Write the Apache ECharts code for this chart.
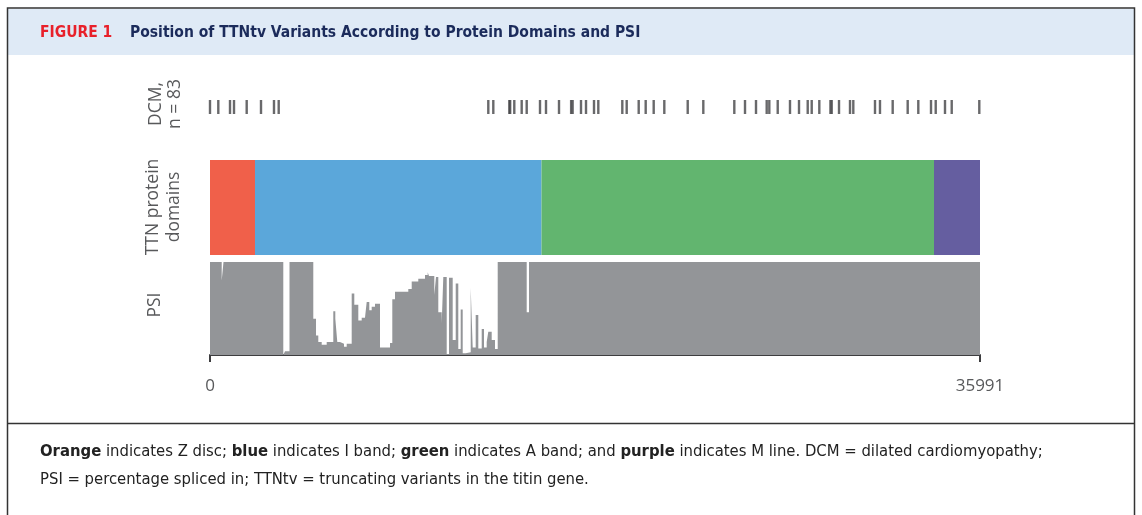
<!DOCTYPE html>
<html><head><meta charset="utf-8">
<script src="https://cdn.jsdelivr.net/npm/echarts@6/dist/echarts.min.js"></script>
<style>html,body{margin:0;padding:0;background:#fff}#c{width:1142px;height:515px}</style>
</head><body><div id="c"></div>
<script>
// ---------- data ----------
const axisMin = 0;
const axisMax = 35991;
const axisTickLabels = ['0', '35991'];

// DCM truncating variant positions (83 variants, many overlapping)
const dcmPositions = [
  0, 388, 935, 1122, 1715, 2384, 2991, 3211,
  13008, 13242, 13990, 14030, 14223, 14569, 14803, 15425, 15705, 16313, 16880, 16950,
  17341, 17575, 17949, 18150, 19272, 19477, 20038, 20365, 20739, 21235, 22329, 23058,
  24507, 25007, 25521, 26021, 26143, 26536, 27110, 27531, 27938, 28125, 28480,
  29000, 29060, 29401, 29915, 30069, 31083, 31316, 31910, 32611, 33107, 33701, 33921,
  34355, 34669, 35958
];

// TTN protein domains
const domainNames = ['Z disc', 'I band', 'A band', 'M line'];
const domainStarts = [0, 2103, 15495, 33841];
const domainEnds = [2103, 15495, 33841, 35991];

// PSI (percentage spliced in), stepwise: value holds from start to next start
const psiStart = [
  0, 547, 631, 3426, 3506, 3716, 4828, 4955, 5062, 5221, 5455, 5763, 5857, 5950, 6076,
  6263, 6390, 6623, 6745, 6932, 7091, 7245, 7324, 7446, 7558, 7712, 7946, 8414, 8521,
  8647, 9269, 9428, 9736, 10050, 10176, 10236, 10484, 10564, 10671, 10830, 10905, 11064,
  11171, 11344, 11485, 11606, 11718, 11812, 11952, 12186, 12279, 12419, 12541, 12700,
  12807, 12933, 13008, 13167, 13321, 13448, 14803, 14911, 35991
];
const psiValue = [
  1.00, 0.80, 1.00, 0.00, 0.04, 1.00, 0.39, 0.21, 0.14, 0.11, 0.14, 0.47, 0.39, 0.14, 0.12,
  0.09, 0.12, 0.66, 0.54, 0.37, 0.40, 0.39, 0.57, 0.48, 0.52, 0.55, 0.08, 0.13, 0.60,
  0.68, 0.71, 0.79, 0.82, 0.86, 0.89, 0.85, 0.645, 0.84, 0.46, 0.34, 0.84, 0.01,
  0.83, 0.16, 0.77, 0.065, 0.49, 0.02, 0.03, 0.72, 0.08, 0.43, 0.07, 0.28,
  0.08, 0.14, 0.25, 0.16, 0.065, 1.00, 0.46, 1.00, 1.00
];

// ---------- chart ----------
const domainColors = ['#f0604a', '#5ba7da', '#62b56f', '#655ea0'];
const labelFont = '"Open Sans", "Noto Sans", sans-serif';
const textFont = '"DejaVu Sans Condensed", "Liberation Sans Narrow", sans-serif';
const chart = echarts.init(document.getElementById('c'), null, {renderer: 'canvas'});

const hiddenX = (gi) => ({
  type: 'value', gridIndex: gi, min: axisMin, max: axisMax, show: false
});
const hiddenY = (gi) => ({
  type: 'value', gridIndex: gi, min: 0, max: 1, show: false
});

const domainSeries = domainNames.map((n, i) => ({
  name: n, type: 'bar', stack: 'dom', xAxisIndex: 1, yAxisIndex: 1,
  barWidth: '100%', silent: true,
  itemStyle: {color: domainColors[i]},
  data: [domainEnds[i] - domainStarts[i]]
}));

const option = {
  animation: false,
  backgroundColor: '#ffffff',
  grid: [
    {left: 210, width: 770, top: 100, height: 14},
    {left: 210, width: 770, top: 160, height: 95},
    {left: 210, width: 770, top: 262, height: 93}
  ],
  xAxis: [
    hiddenX(0),
    hiddenX(1),
    {
      type: 'value', gridIndex: 2, min: axisMin, max: axisMax, interval: axisMax,
      offset: 5,
      axisLine: {show: true, lineStyle: {color: '#3d3d3f', width: 2}},
      axisTick: {show: true, length: 7, lineStyle: {color: '#3d3d3f', width: 2}},
      splitLine: {show: false},
      axisLabel: {
        margin: 18, fontSize: 17, color: '#58595b', fontFamily: labelFont,
        showMinLabel: true, showMaxLabel: true,
        formatter: (v) => v === axisMin ? axisTickLabels[0] : (v === axisMax ? axisTickLabels[1] : '')
      }
    }
  ],
  yAxis: [
    hiddenY(0),
    {type: 'category', gridIndex: 1, data: ['domains'], show: false},
    hiddenY(2)
  ],
  series: [
    {
      type: 'scatter', xAxisIndex: 0, yAxisIndex: 0, silent: true,
      symbol: 'rect', symbolSize: [2.4, 14],
      itemStyle: {color: '#444446'},
      data: dcmPositions.map(p => [p, 0.5])
    },
    ...domainSeries,
    {
      type: 'line', xAxisIndex: 2, yAxisIndex: 2, step: 'end', silent: true,
      showSymbol: false, symbol: 'none',
      lineStyle: {width: 0},
      areaStyle: {color: '#939598', opacity: 1},
      data: psiStart.map((s, i) => [s, psiValue[i]])
    }
  ],
  graphic: [
    // frame and header band
    {type: 'rect', z: -10, shape: {x: 8, y: 9, width: 1126, height: 46}, style: {fill: '#dfeaf6'}},
    {type: 'rect', z: -5, shape: {x: 7.5, y: 8, width: 1127, height: 530}, style: {fill: 'none', stroke: '#333333', lineWidth: 1.5}},
    {type: 'line', shape: {x1: 8, y1: 423.5, x2: 1134, y2: 423.5}, style: {stroke: '#333333', lineWidth: 1.5}},
    {type: 'text', x: 40, y: 33, style: {text: 'FIGURE 1', fill: '#e8202a', font: 'bold 15.5px ' + textFont, textVerticalAlign: 'middle'}},
    {type: 'text', x: 130, y: 33, style: {text: 'Position of TTNtv Variants According to Protein Domains and PSI', fill: '#1b2b5b', font: 'bold 15.5px ' + textFont, textVerticalAlign: 'middle'}},
    // row labels
    {type: 'text', x: 166, y: 104, rotation: Math.PI / 2, style: {text: 'DCM,\nn = 83', fill: '#58595b', font: '17.5px ' + labelFont, textAlign: 'center', textVerticalAlign: 'middle', lineHeight: 19}},
    {type: 'text', x: 164, y: 207, rotation: Math.PI / 2, style: {text: 'TTN protein\ndomains', fill: '#58595b', font: '17.5px ' + labelFont, textAlign: 'center', textVerticalAlign: 'middle', lineHeight: 21}},
    {type: 'text', x: 155, y: 305, rotation: Math.PI / 2, style: {text: 'PSI', fill: '#58595b', font: '17.5px ' + labelFont, textAlign: 'center', textVerticalAlign: 'middle'}},
    // footnote
    {type: 'text', x: 40, y: 452, style: {
      text: '{b|Orange} indicates Z disc; {b|blue} indicates I band; {b|green} indicates A band; and {b|purple} indicates M line. DCM = dilated cardiomyopathy;',
      font: '16.5px ' + textFont, fill: '#222222', textVerticalAlign: 'middle',
      rich: {b: {fontWeight: 'bold', fontSize: 16.5, fontFamily: textFont, fill: '#222222'}}
    }},
    {type: 'text', x: 40, y: 480, style: {
      text: 'PSI = percentage spliced in; TTNtv = truncating variants in the titin gene.',
      font: '16.5px ' + textFont, fill: '#222222', textVerticalAlign: 'middle'
    }}
  ]
};
chart.setOption(option);
</script>
</body></html>
